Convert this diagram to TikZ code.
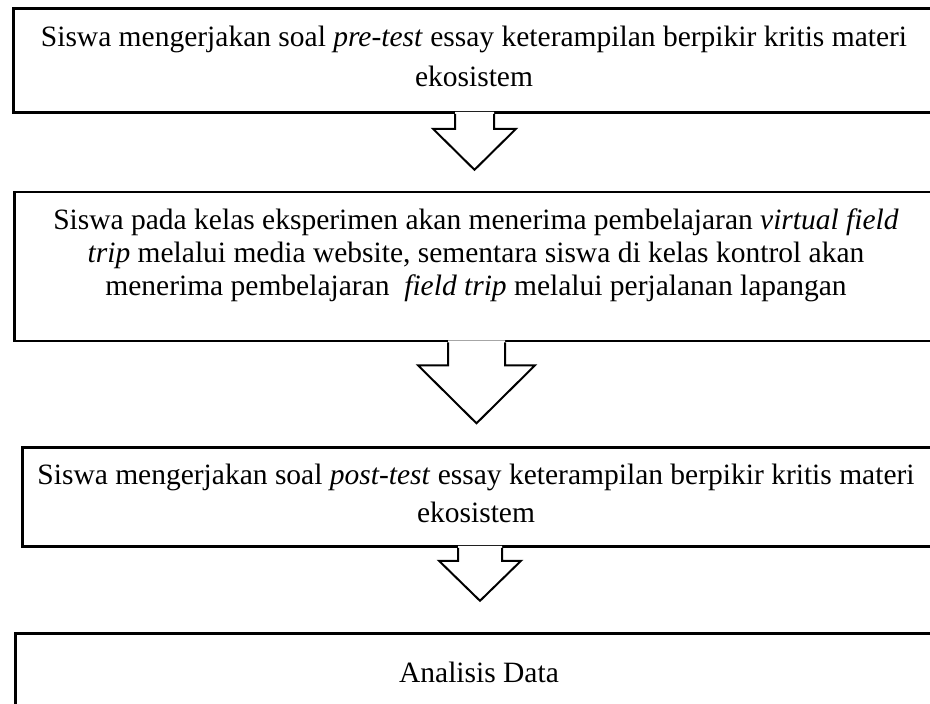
\documentclass[tikz,border=0pt]{standalone}
\usepackage{fontspec}
\setmainfont{Liberation Serif}
\usetikzlibrary{calc}
\tikzset{
  boxshape/.style={draw=black, line width=2.8pt, fill=white, rectangle, inner sep=0pt, anchor=north west},
  boxtext/.style={align=center, inner sep=0pt, text=black},
  arrowline/.style={draw=black, line width=2pt, line join=miter},
}
\newcommand{\blockarrow}[5]{%
  \fill[white, shift={(#1)}] (-#2,-2) -- (-#2,#4) -- (-#3,#4) -- (0,#5) -- (#3,#4) -- (#2,#4) -- (#2,-2) -- cycle;
  \draw[arrowline, shift={(#1)}] (-#2,0) -- (-#2,#4) -- (-#3,#4) -- (0,#5) -- (#3,#4) -- (#2,#4) -- (#2,0);
}
\begin{document}
\begin{tikzpicture}[x=1pt,y=-1pt]
\useasboundingbox (0,0) rectangle (930,704);
\clip (0,0) rectangle (930,704);
\fill[white] (0,0) rectangle (930,704);

% boxes
\node[boxshape, minimum width=960pt, minimum height=104pt] (b1) at (12,7) {};
\node[boxshape, minimum width=960pt, minimum height=149pt] (b2) at (13,190.5) {};
\node[boxshape, minimum width=960pt, minimum height=99pt] (b3) at (21,446) {};
\node[boxshape, minimum width=960pt, minimum height=120pt] (b4) at (14,632) {};

% texts
\node[boxtext, font={\fontsize{29.5}{40}\selectfont}] (t1) at (474,56)
  {Siswa mengerjakan soal \textit{pre-test} essay keterampilan berpikir kritis materi\\ekosistem};
\node[boxtext, font={\fontsize{29.5}{33}\selectfont}] (t2) at (476,255)
  {Siswa pada kelas eksperimen akan menerima pembelajaran \textit{virtual field}\\\textit{trip} melalui media website, sementara siswa di kelas kontrol akan\\menerima pembelajaran\ \ \textit{field trip} melalui perjalanan lapangan};
\node[boxtext, font={\fontsize{29.5}{38}\selectfont}] (t3) at (476,493)
  {Siswa mengerjakan soal \textit{post-test} essay keterampilan berpikir kritis materi\\ekosistem};
\node[boxtext, font={\fontsize{29.5}{38}\selectfont}] (t4) at (479,672) {Analisis Data};

% block arrows
\coordinate (a1) at ($(b1.south west)+(462.5,0)$);
\coordinate (a2) at ($(b2.south west)+(463.5,0)$);
\coordinate (a3) at ($(b3.south west)+(459,0)$);
\blockarrow{a1}{19.5}{41.5}{15}{56}
\blockarrow{a2}{28.5}{58.5}{23}{81}
\blockarrow{a3}{22}{41}{13}{53}
\end{tikzpicture}
\end{document}
